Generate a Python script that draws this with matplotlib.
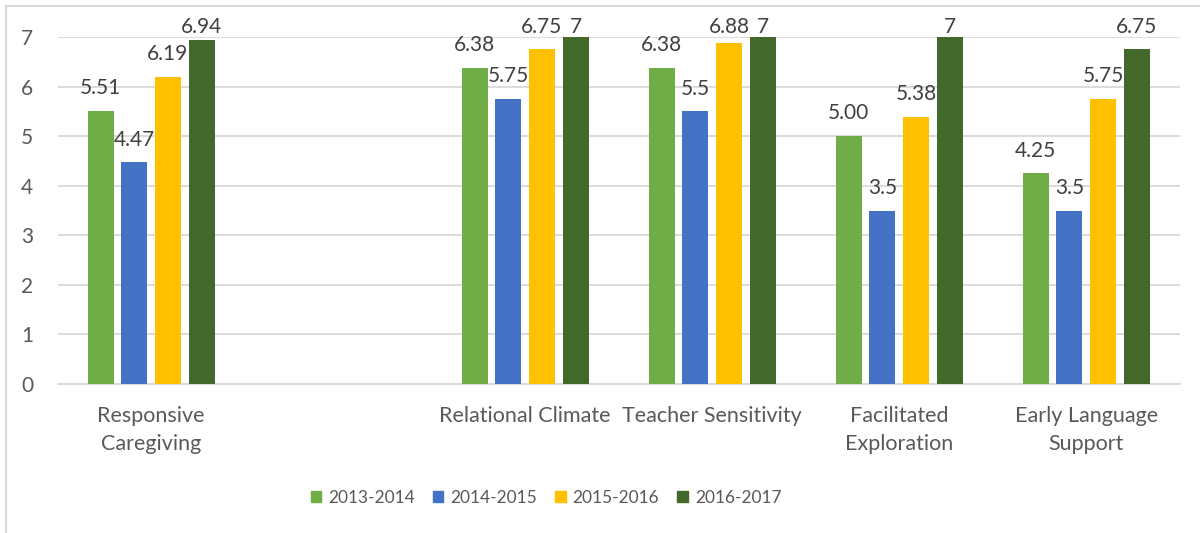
import numpy as np
import matplotlib.pyplot as plt
from matplotlib.lines import Line2D

plt.rcParams['font.family'] = ['Lato', 'DejaVu Sans']

categories = ['Responsive\nCaregiving', '', 'Relational Climate', 'Teacher Sensitivity',
              'Facilitated\nExploration', 'Early Language\nSupport']
series_names = ['2013-2014', '2014-2015', '2015-2016', '2016-2017']
v1314 = [5.51, np.nan, 6.38, 6.38, 5.00, 4.25]
v1415 = [4.47, np.nan, 5.75, 5.5, 3.5, 3.5]
v1516 = [6.19, np.nan, 6.75, 6.88, 5.38, 5.75]
v1617 = [6.94, np.nan, 7, 7, 7, 6.75]
lab1314 = ['5.51', '', '6.38', '6.38', '5.00', '4.25']
lab1415 = ['4.47', '', '5.75', '5.5', '3.5', '3.5']
lab1516 = ['6.19', '', '6.75', '6.88', '5.38', '5.75']
lab1617 = ['6.94', '', '7', '7', '7', '6.75']

colors = ['#70AD47', '#4472C4', '#FFC000', '#43682B']
text_col = '#595959'
grid_col = '#D9D9D9'

fig = plt.figure(figsize=(12, 5.33), dpi=100)
ax = fig.add_axes([0.048, 0.2795, 0.935, 0.651])

x = np.arange(len(categories))
width = 0.14
step = 0.18
label_gap = 0.34      # label baseline above bar top (data units)
label_ceiling = 7.08  # labels are kept inside the chart area, like Excel does
all_vals = [v1314, v1415, v1516, v1617]
all_labs = [lab1314, lab1415, lab1516, lab1617]
for i, (vals, labs) in enumerate(zip(all_vals, all_labs)):
    pos = x + (i - 1.5) * step
    bars = ax.bar(pos, vals, width, color=colors[i], label=series_names[i], zorder=3)
    for b, v, t in zip(bars, vals, labs):
        if t == '':
            continue
        ax.text(b.get_x() + b.get_width() / 2, min(v + label_gap, label_ceiling), t,
                ha='center', va='baseline', fontsize=15, color='#404040', clip_on=False)

ax.set_xlim(-0.5, len(categories) - 0.5)
ax.set_ylim(0, 7)
ax.set_yticks(range(0, 8))
ax.set_xticks(x)
ax.set_xticklabels(categories, fontsize=15.5, color=text_col, linespacing=1.5)
ax.tick_params(axis='both', length=0, colors=text_col)
ax.tick_params(axis='x', pad=16, labelsize=15.5)
ax.tick_params(axis='y', pad=22, labelsize=15)
for lbl in ax.get_yticklabels():
    lbl.set_horizontalalignment('center')
ax.grid(axis='y', color=grid_col, linewidth=1.3, zorder=0)
for s in ['top', 'right', 'left']:
    ax.spines[s].set_visible(False)
ax.spines['bottom'].set_color(grid_col)
ax.spines['bottom'].set_linewidth(1.3)

handles = [plt.Rectangle((0, 0), 1, 1, color=c) for c in colors]
ax.legend(handles, series_names, loc='center', bbox_to_anchor=(0.455, 35 / 533),
          bbox_transform=fig.transFigure, ncol=4, frameon=False, fontsize=12.5,
          handlelength=0.6, handleheight=0.6, handletextpad=0.4,
          columnspacing=1.05, labelcolor=text_col)

# light frame of the chart area
fig.add_artist(Line2D([6 / 1200, 6 / 1200], [0, 1 - 6 / 533], color=grid_col, lw=1.5))
fig.add_artist(Line2D([6 / 1200, 1], [1 - 6 / 533, 1 - 6 / 533], color=grid_col, lw=1.5))

fig.savefig('out.png', dpi=100)
